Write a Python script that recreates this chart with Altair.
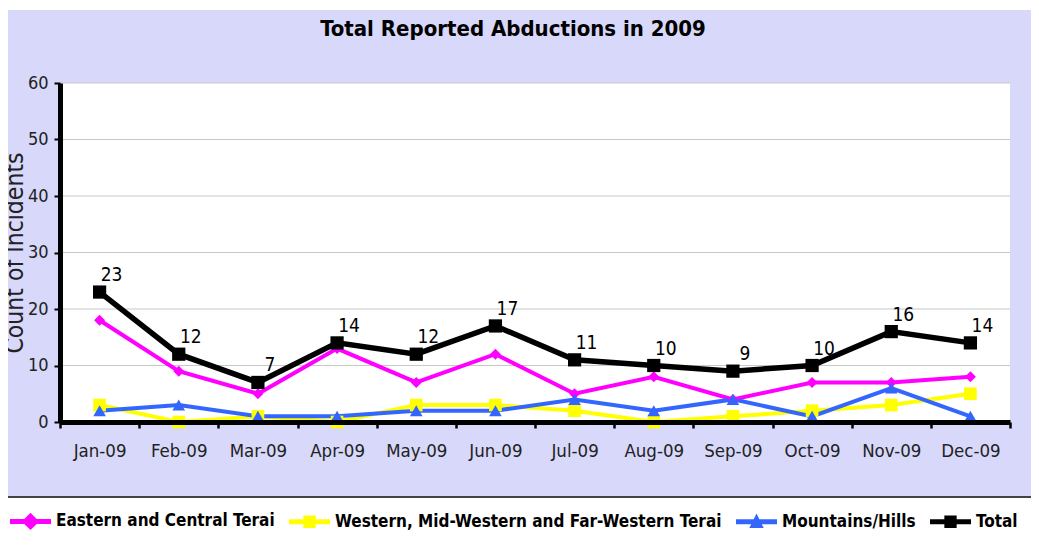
import altair as alt
import pandas as pd

# ---- data ----
months = ["Jan-09", "Feb-09", "Mar-09", "Apr-09", "May-09", "Jun-09",
          "Jul-09", "Aug-09", "Sep-09", "Oct-09", "Nov-09", "Dec-09"]
eastern = [18, 9, 5, 13, 7, 12, 5, 8, 4, 7, 7, 8]
western = [3, 0, 1, 0, 3, 3, 2, 0, 1, 2, 3, 5]
mountains = [2, 3, 1, 1, 2, 2, 4, 2, 4, 1, 6, 1]
total = [23, 12, 7, 14, 12, 17, 11, 10, 9, 10, 16, 14]

series_names = ["Eastern and Central Terai",
                "Western, Mid-Western and Far-Western Terai",
                "Mountains/Hills", "Total"]
series_colors = ["#FF00FF", "#FFFF00", "#3366FF", "#000000"]
series_shapes = ["diamond", "square", "triangle-up", "square"]
series_sizes = [120, 160, 160, 175]
y_ticks = [0, 10, 20, 30, 40, 50, 60]
grid_vals = [10, 20, 30, 40, 50, 60]

rows = []
for name, vals in zip(series_names, [eastern, western, mountains, total]):
    for m, v in zip(months, vals):
        rows.append({"month": m, "series": name, "value": v})
df = pd.DataFrame(rows)
df_reg = df[df.series != "Total"]
df_tot = df[df.series == "Total"]

W, H = 950, 339
PAD_L, PAD_T, PAD_R, PAD_B = 52, 75, 21, 112
FONT = "DejaVu Sans Condensed, Liberation Sans Narrow, Liberation Sans"

# legend symbol paths: a line with the series' marker on it
p_diamond = "M-1,-0.12H-0.3L0,-0.42L0.3,-0.12H1V0.12H0.3L0,0.42L-0.3,0.12H-1Z"
p_square = "M-1,-0.12H-0.3V-0.3H0.3V-0.12H1V0.12H0.3V0.3H-0.3V0.12H-1Z"
p_tri = "M-1,-0.12H-0.14L0,-0.4L0.14,-0.12H1V0.12H0.26L0.35,0.3H-0.35L-0.26,0.12H-1Z"
legend_paths = [p_diamond, p_square, p_tri, p_square]

legend = alt.Legend(
    title=None, orient="none", legendX=-50, legendY=417.5, direction="horizontal",
    symbolSize=1681, symbolOpacity=1, symbolStrokeWidth=0,
    labelFont=FONT, labelFontSize=17, labelFontWeight="bold", labelLimit=600,
    labelColor="#000000", columnPadding=14, labelOffset=5, padding=0,
)

color_scale = alt.Scale(domain=series_names, range=series_colors)
color_noleg = alt.Color("series:N", scale=color_scale, legend=None)

x_axis = alt.Axis(title=None, labelAngle=0, tickBand="extent", domainColor="#000000",
                  domainWidth=5, tickColor="#000000", tickWidth=2.5, tickSize=6,
                  labelFont=FONT, labelFontSize=18.5, labelColor="#222222",
                  labelPadding=13, grid=False, zindex=1)
y_axis = alt.Axis(values=y_ticks, title="Count of Incidents", titleFont=FONT,
                  titleFontSize=24.5, titleFontWeight="normal", titleColor="#222222",
                  titleAngle=270, titleX=-38, titleY=H / 2, titleAlign="center",
                  titleBaseline="alphabetic", grid=False, domainColor="#000000",
                  domainWidth=5, tickColor="#000000", tickWidth=2, tickSize=6,
                  labelFont=FONT, labelFontSize=18, labelColor="#222222",
                  labelPadding=6, zindex=1)

x_enc = alt.X("month:N", sort=months, bandPosition=0.5,
              scale=alt.Scale(type="band", domain=months, paddingInner=0, paddingOuter=0),
              axis=x_axis)
y_enc = alt.Y("value:Q", scale=alt.Scale(domain=[0, 60], nice=False), axis=y_axis)

one = pd.DataFrame({"k": [0]})
lav = alt.Chart(one).mark_rect(color="#D8D8FA").encode(
    x=alt.value(-PAD_L), x2=alt.value(W + PAD_R), y=alt.value(-73), y2=alt.value(413))
plotbg = alt.Chart(one).mark_rect(color="#FFFFFF").encode(
    x=alt.value(0), x2=alt.value(W), y=alt.value(0), y2=alt.value(H))
sep = alt.Chart(one).mark_rule(color="#444444", strokeWidth=2).encode(
    x=alt.value(-PAD_L), x2=alt.value(W + PAD_R), y=alt.value(414))

grid = alt.Chart(pd.DataFrame({"value": grid_vals})).mark_rule(
    color="#C8C8C8", strokeWidth=1).encode(y=y_enc)

# invisible layer that only carries the legend (line + marker symbols)
leg_layer = alt.Chart(df).mark_point(filled=True, opacity=0).encode(
    x=x_enc, y=y_enc,
    fill=alt.Fill("series:N", scale=alt.Scale(domain=series_names, range=series_colors),
                  legend=legend),
    shape=alt.Shape("series:N", scale=alt.Scale(domain=series_names, range=legend_paths),
                    legend=legend),
)

layers = [leg_layer, lav, plotbg, sep, grid]

reg_line = alt.Chart(df_reg).mark_line(strokeWidth=4).encode(
    x=x_enc, y=y_enc, color=color_noleg)
layers.append(reg_line)
for i in range(3):
    layers.append(
        alt.Chart(df[df.series == series_names[i]]).mark_point(
            filled=True, opacity=1, shape=series_shapes[i], size=series_sizes[i]
        ).encode(x=x_enc, y=y_enc, color=color_noleg))

tot_line = alt.Chart(df_tot).mark_line(strokeWidth=5.5).encode(
    x=x_enc, y=y_enc, color=color_noleg)
tot_pts = alt.Chart(df_tot).mark_point(
    filled=True, opacity=1, shape=series_shapes[3], size=series_sizes[3]
).encode(x=x_enc, y=y_enc, color=color_noleg)
labels = alt.Chart(df_tot).mark_text(
    font=FONT, fontSize=19, color="#000000", dx=12, dy=-17).encode(
    x=x_enc, y=y_enc, text="value:Q")
layers += [tot_line, tot_pts, labels]

chart = alt.layer(*layers).properties(
    width=W, height=H,
    padding={"left": PAD_L, "top": PAD_T, "right": PAD_R, "bottom": PAD_B},
    autosize=alt.AutoSizeParams(type="none"),
    background="#FFFFFF",
    title=alt.TitleParams("Total Reported Abductions in 2009", font=FONT, fontSize=22,
                          fontWeight="bold", color="#000000", anchor="middle",
                          frame="group", dx=-22, offset=-48, baseline="alphabetic"),
).configure_view(stroke=None)

chart.save("out.html", embed_options={"renderer": "svg", "actions": False})
